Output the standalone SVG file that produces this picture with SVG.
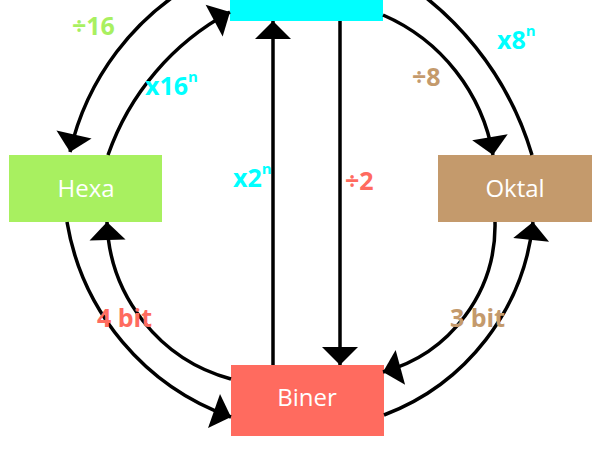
<svg xmlns="http://www.w3.org/2000/svg" width="600" height="450" viewBox="0 0 600 450">
<defs>
<style>
.node text{font-family:"Open Sans","Liberation Sans",sans-serif;font-size:24px;fill:#ffffff;text-anchor:middle}
.conn path{fill:none;stroke:#000;stroke-width:3.5;marker-end:url(#ah)}
.lbl{font-family:"Open Sans","Liberation Sans",sans-serif;font-weight:700;font-size:25px}
.sup{font-size:15px}
.cy{fill:#00ffff}.gr{fill:#a8f060}.br{fill:#c49a6c}.rd{fill:#ff6b5f}
</style>
<marker id="ah" markerUnits="userSpaceOnUse" viewBox="0 -18 18 36" markerWidth="18" markerHeight="36" refX="18" refY="0" orient="auto" overflow="visible">
<path d="M0,-18 L18,0 L0,18 Z" fill="#000"/>
</marker>
</defs>
<rect width="600" height="450" fill="#ffffff"/>
<g id="desimal" class="node"><rect x="230" y="-46" width="153" height="67" fill="#00ffff"/></g>
<g id="hexa" class="node"><rect x="9" y="155" width="153" height="67" fill="#a8f060"/><text x="86" y="197">Hexa</text></g>
<g id="oktal" class="node"><rect x="438" y="155" width="154" height="67" fill="#c49a6c"/><text x="515" y="197">Oktal</text></g>
<g id="biner" class="node"><rect x="231" y="365" width="153" height="71" fill="#ff6b5f"/><text x="307" y="406">Biner</text></g>
<g id="connectors" class="conn">
<path d="M200,-20 A263,263 0 0 0 70,152"/>
<path d="M108,155 A259,259 0 0 1 230,12"/>
<path d="M532,155 A315,315 0 0 0 383,-31"/>
<path d="M383,15 A187,187 0 0 1 493,155"/>
<path d="M495,222 A152,152 0 0 1 383,372"/>
<path d="M384,415 A232,232 0 0 0 533,222"/>
<path d="M67,222 A251,251 0 0 0 231,417"/>
<path d="M231,379 A168,168 0 0 1 107,222"/>
<path d="M273,365 L273,21"/>
<path d="M340,21 L340,365"/>
</g>
<g id="labels" class="lbl">
<text class="gr" x="72" y="35">÷16</text>
<text class="cy" x="145" y="95">x16<tspan class="sup" dy="-13">n</tspan></text>
<text class="cy" x="497" y="49">x8<tspan class="sup" dy="-13">n</tspan></text>
<text class="br" x="412" y="86">÷8</text>
<text class="cy" x="233" y="187">x2<tspan class="sup" dy="-13">n</tspan></text>
<text class="rd" x="345" y="190">÷2</text>
<text class="rd" x="97" y="327">4 bit</text>
<text class="br" x="450" y="327">3 bit</text>
</g>
</svg>
